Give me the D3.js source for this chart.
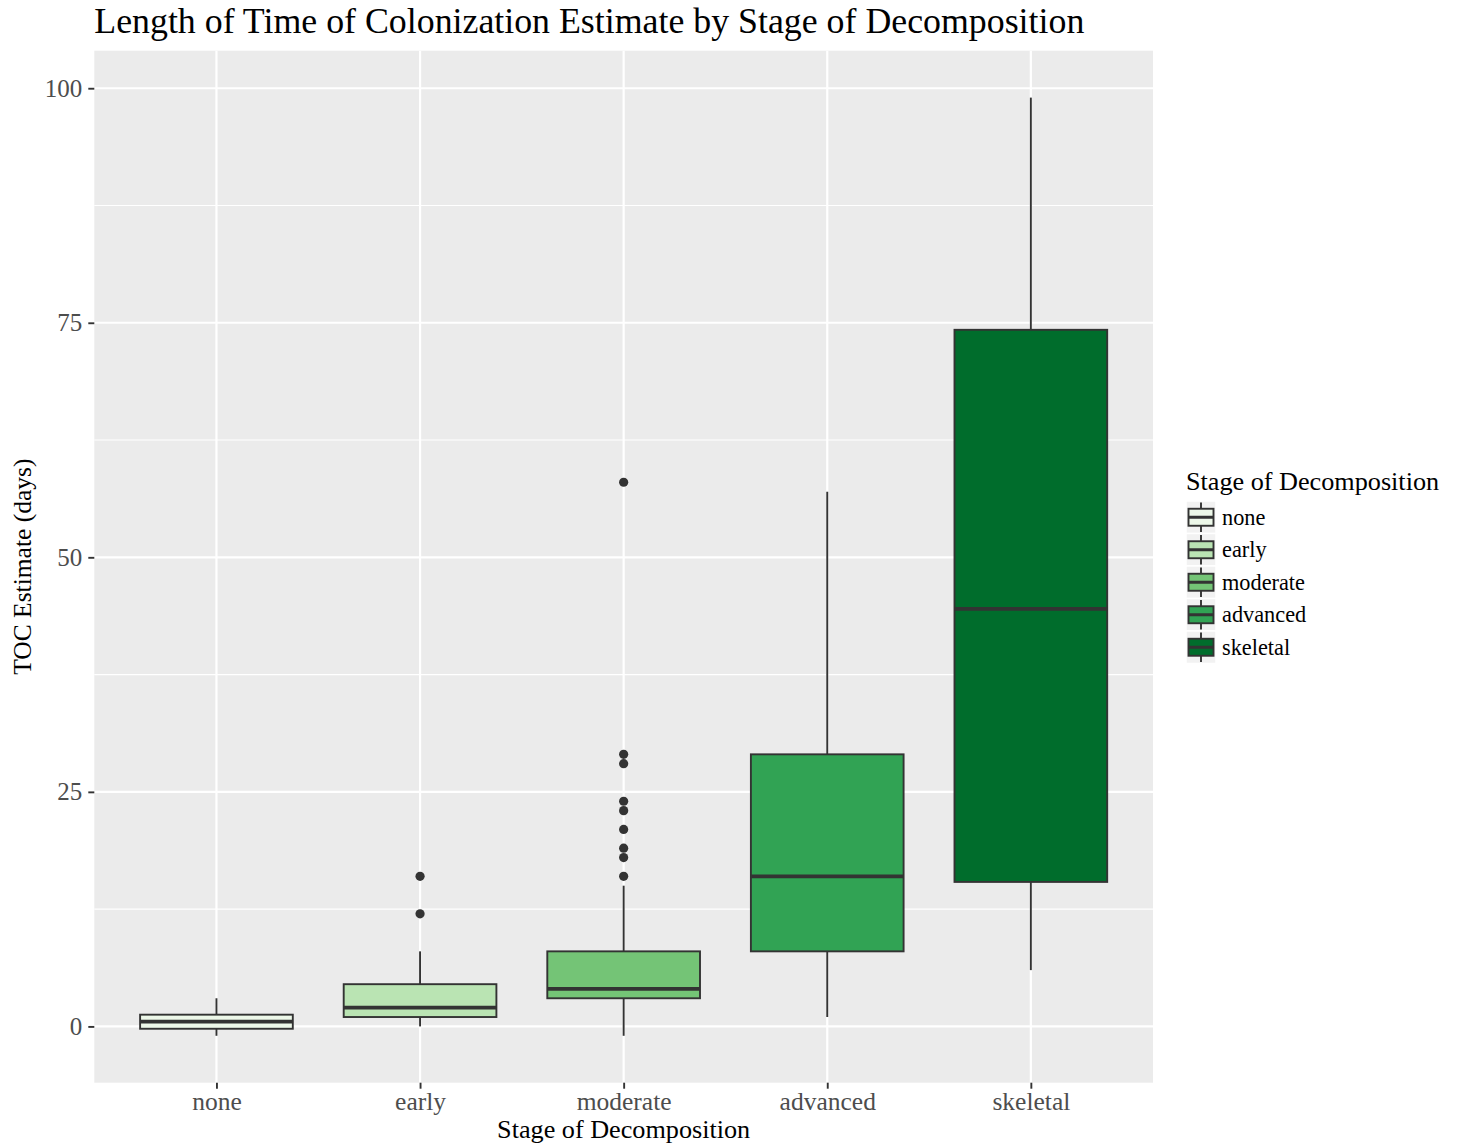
<!DOCTYPE html>
<html>
<head>
<meta charset="utf-8">
<script src="https://cdn.jsdelivr.net/npm/d3@7"></script>
<style>
  html, body { margin: 0; padding: 0; background: #ffffff; }
  svg { display: block; }
  text { font-family: "Liberation Serif", "Times New Roman", Times, serif; }
</style>
</head>
<body>
<div id="chart"></div>
<script>
// ---------- data ----------
const categories = ["none", "early", "moderate", "advanced", "skeletal"];
const lowerWhisker = [-1, 0, -1, 1, 6];
const q1Values     = [-0.25, 1, 3, 8, 15.4];
const medianValues = [0.5, 2, 4, 16, 44.5];
const q3Values     = [1.25, 4.5, 8, 29, 74.25];
const upperWhisker = [3, 8, 15, 57, 99];
const outlierValues = [
  [],
  [12, 16],
  [16, 18, 19, 21, 23, 24, 28, 29, 58],
  [],
  []
];
const fillColors = ["#EDF8E9", "#BAE4B3", "#74C476", "#31A354", "#006D2C"];
const yTicks = [0, 25, 50, 75, 100];
const yMinorTicks = [12.5, 37.5, 62.5, 87.5];
const titleText = "Length of Time of Colonization Estimate by Stage of Decomposition";
const xTitle = "Stage of Decomposition";
const yTitle = "TOC Estimate (days)";
const legendTitle = "Stage of Decomposition";

// ---------- layout ----------
const W = 1461, H = 1145;
const panel = { left: 94.3, right: 1153, top: 50.7, bottom: 1082.7 };

const svg = d3.select("#chart").append("svg")
  .attr("width", W).attr("height", H);

const x = d3.scalePoint().domain(categories)
  .range([panel.left, panel.right]).padding(0.6);
const y = d3.scaleLinear().domain([-6, 104])
  .range([panel.bottom, panel.top]);

const boxW = x.step() * 0.75;
const dark = "#333333";

// panel background
svg.append("rect")
  .attr("x", panel.left).attr("y", panel.top)
  .attr("width", panel.right - panel.left)
  .attr("height", panel.bottom - panel.top)
  .attr("fill", "#EBEBEB");

// minor gridlines
svg.append("g").selectAll("line").data(yMinorTicks).join("line")
  .attr("x1", panel.left).attr("x2", panel.right)
  .attr("y1", d => y(d)).attr("y2", d => y(d))
  .attr("stroke", "#ffffff").attr("stroke-width", 1.1);

// major gridlines
svg.append("g").selectAll("line").data(yTicks).join("line")
  .attr("x1", panel.left).attr("x2", panel.right)
  .attr("y1", d => y(d)).attr("y2", d => y(d))
  .attr("stroke", "#ffffff").attr("stroke-width", 2.2);
svg.append("g").selectAll("line").data(categories).join("line")
  .attr("x1", d => x(d)).attr("x2", d => x(d))
  .attr("y1", panel.top).attr("y2", panel.bottom)
  .attr("stroke", "#ffffff").attr("stroke-width", 2.2);

// boxes
const boxes = categories.map((c, i) => ({
  cat: c, lo: lowerWhisker[i], q1: q1Values[i], med: medianValues[i],
  q3: q3Values[i], hi: upperWhisker[i], out: outlierValues[i], fill: fillColors[i]
}));

const bg = svg.append("g").selectAll("g").data(boxes).join("g");
bg.append("line")
  .attr("x1", d => x(d.cat)).attr("x2", d => x(d.cat))
  .attr("y1", d => y(d.q3)).attr("y2", d => y(d.hi))
  .attr("stroke", dark).attr("stroke-width", 1.9);
bg.append("line")
  .attr("x1", d => x(d.cat)).attr("x2", d => x(d.cat))
  .attr("y1", d => y(d.q1)).attr("y2", d => y(d.lo))
  .attr("stroke", dark).attr("stroke-width", 1.9);
bg.append("rect")
  .attr("x", d => x(d.cat) - boxW / 2).attr("width", boxW)
  .attr("y", d => y(d.q3)).attr("height", d => y(d.q1) - y(d.q3))
  .attr("fill", d => d.fill).attr("stroke", dark).attr("stroke-width", 1.9);
bg.append("line")
  .attr("x1", d => x(d.cat) - boxW / 2).attr("x2", d => x(d.cat) + boxW / 2)
  .attr("y1", d => y(d.med)).attr("y2", d => y(d.med))
  .attr("stroke", dark).attr("stroke-width", 3.8);
bg.selectAll("circle").data(d => d.out.map(v => ({ cat: d.cat, v }))).join("circle")
  .attr("cx", d => x(d.cat)).attr("cy", d => y(d.v)).attr("r", 4.6)
  .attr("fill", dark);

// y axis
const yAxis = svg.append("g").attr("transform", `translate(${panel.left},0)`)
  .call(d3.axisLeft(y).tickValues(yTicks).tickSize(6).tickPadding(6).tickFormat(d3.format("d")));
yAxis.select(".domain").remove();
yAxis.selectAll(".tick line").attr("stroke", dark).attr("stroke-width", 1.9);
yAxis.selectAll(".tick text").attr("fill", "#4D4D4D")
  .attr("font-size", 25).attr("font-family", "Liberation Serif");

// x axis
const xAxis = svg.append("g").attr("transform", `translate(0,${panel.bottom})`)
  .call(d3.axisBottom(x).tickSize(6).tickPadding(6));
xAxis.select(".domain").remove();
xAxis.selectAll(".tick line").attr("stroke", dark).attr("stroke-width", 1.9);
xAxis.selectAll(".tick text").attr("fill", "#4D4D4D")
  .attr("font-size", 25.5).attr("font-family", "Liberation Serif")
  .attr("dy", null).attr("y", 27.3);

// titles
svg.append("text").attr("x", panel.left).attr("y", 33)
  .attr("font-size", 34.8).attr("fill", "#000")
  .attr("textLength", 990).attr("lengthAdjust", "spacingAndGlyphs")
  .text(titleText);
svg.append("text").attr("x", (panel.left + panel.right) / 2).attr("y", 1138)
  .attr("text-anchor", "middle").attr("font-size", 26.2).attr("fill", "#000").text(xTitle);
svg.append("text")
  .attr("transform", `translate(31,${(panel.top + panel.bottom) / 2}) rotate(-90)`)
  .attr("text-anchor", "middle").attr("font-size", 25.5).attr("fill", "#000").text(yTitle);

// legend
const legX = 1186, legTitleY = 490, keyTop = 501, keyH = 32.5, keyW = 30;
const leg = svg.append("g");
leg.append("text").attr("x", legX).attr("y", legTitleY)
  .attr("font-size", 26.2).attr("fill", "#000").text(legendTitle);
const items = leg.selectAll("g.item").data(boxes).join("g").attr("class", "item")
  .attr("transform", (d, i) => `translate(${legX},${keyTop + i * keyH})`);
items.append("rect").attr("width", keyW).attr("height", keyH)
  .attr("fill", "#F2F2F2").attr("stroke", "#ffffff").attr("stroke-width", 1.5);
items.append("line").attr("x1", keyW / 2).attr("x2", keyW / 2)
  .attr("y1", 1.5).attr("y2", keyH - 1.5).attr("stroke", dark).attr("stroke-width", 1.9);
items.append("rect").attr("x", 2.5).attr("width", keyW - 5)
  .attr("y", keyH / 2 - 8.5).attr("height", 17)
  .attr("fill", d => d.fill).attr("stroke", dark).attr("stroke-width", 1.9);
items.append("line").attr("x1", 2.5).attr("x2", keyW - 2.5)
  .attr("y1", keyH / 2).attr("y2", keyH / 2).attr("stroke", dark).attr("stroke-width", 3);
items.append("text").attr("x", keyW + 6).attr("y", keyH / 2 + 7.5)
  .attr("font-size", 22.3).attr("fill", "#000").text(d => d.cat);
</script>
</body>
</html>
